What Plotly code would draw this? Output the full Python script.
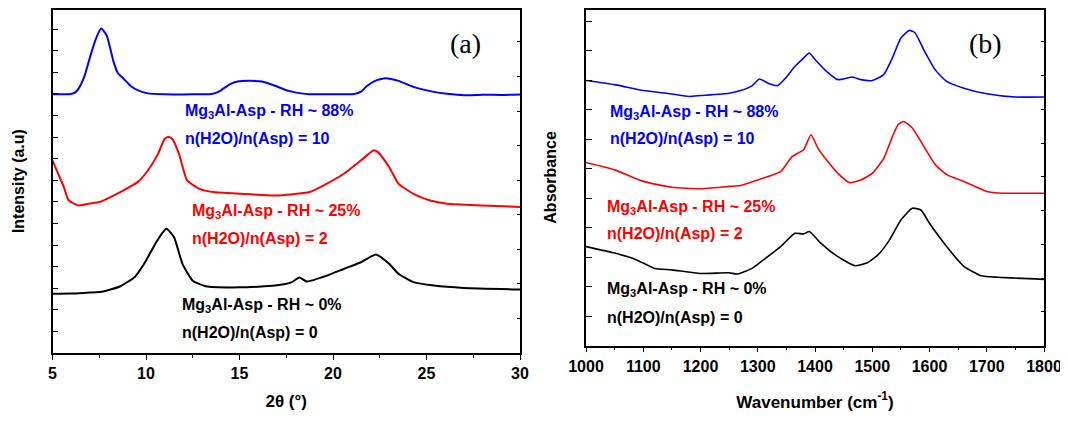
import plotly.graph_objects as go

# ---------- Panel (a): XRD (offset units, 0 = bottom of frame) ----------
xrd_blue_x = [5.0, 5.9, 6.2, 6.4, 6.7, 7.0, 7.3, 7.6, 7.9, 8.26, 8.5, 8.8, 9.2, 9.55, 10.1, 11.0, 12.0, 13.0, 13.5,
              13.9, 14.15, 14.5, 14.9, 15.5, 16.2, 16.9, 17.4, 17.8, 18.3, 18.75, 20.0, 21.15, 21.5, 21.8, 22.25,
              22.8, 23.5, 24.3, 25.4, 26.1, 27.0, 28.0, 29.0, 30.0]
xrd_blue_y = [11.98, 11.98, 12.05, 12.25, 12.8, 13.68, 14.5, 15.02, 14.7, 13.5, 12.95, 12.7, 12.35, 12.17, 12.02,
              11.98, 11.97, 11.98, 11.99, 12.1, 12.25, 12.45, 12.57, 12.6, 12.57, 12.37, 12.2, 12.1, 12.02, 11.98,
              11.98, 11.99, 12.1, 12.35, 12.6, 12.72, 12.6, 12.32, 12.09, 12.0, 11.93, 11.96, 11.95, 11.97]

xrd_red_x = [5.0, 5.3, 5.6, 5.87, 6.4, 7.0, 7.5, 8.1, 8.8, 9.55, 10.1, 10.65, 11.0, 11.2, 11.4, 11.76, 12.2,
             12.86, 13.6, 15.07, 16.9, 18.75, 19.5, 20.6, 21.5, 22.16, 22.4, 23.0, 23.5, 24.3, 25.2, 26.1, 28.0, 30.0]
xrd_red_y = [8.92, 8.3, 7.7, 7.06, 6.83, 6.92, 6.99, 7.22, 7.53, 7.91, 8.45, 9.23, 9.92, 10.0, 9.92, 9.23, 7.99,
             7.6, 7.45, 7.37, 7.29, 7.45, 7.76, 8.31, 8.92, 9.38, 9.3, 8.61, 7.84, 7.37, 7.06, 6.91, 6.83, 6.76]

xrd_black_x = [5.0, 6.0, 7.0, 7.7, 8.6, 9.4, 9.9, 10.5, 10.85, 11.1, 11.5, 11.95, 12.5, 13.2, 15.07, 16.9,
               17.8, 18.2, 18.6, 19.7, 20.6, 21.5, 22.3, 23.0, 23.5, 24.3, 25.4, 27.0, 30.0]
xrd_black_y = [2.74, 2.75, 2.8, 2.85, 3.08, 3.52, 4.13, 5.06, 5.53, 5.75, 5.36, 4.13, 3.35, 3.09, 3.04, 3.12,
               3.28, 3.5, 3.31, 3.59, 3.9, 4.2, 4.56, 4.13, 3.67, 3.28, 3.12, 3.01, 2.94]

# ---------- Panel (b): FTIR ----------
ir_blue_x = [1000, 1050, 1070, 1100, 1150, 1180, 1200, 1250, 1270, 1290, 1303, 1320, 1335, 1350, 1365, 1380,
             1390, 1400, 1420, 1440, 1465, 1480, 1500, 1520, 1535, 1550, 1565, 1575, 1590, 1610, 1630, 1660,
             1700, 1750, 1800]
ir_blue_y = [8.99, 8.85, 8.77, 8.65, 8.53, 8.45, 8.48, 8.56, 8.65, 8.81, 9.04, 8.88, 8.82, 9.1, 9.47, 9.75,
             9.92, 9.7, 9.3, 9.02, 9.11, 9.02, 8.99, 9.19, 9.75, 10.43, 10.69, 10.6, 10.03, 9.35, 8.96, 8.73,
             8.54, 8.43, 8.43]

ir_red_x = [1000, 1050, 1100, 1150, 1200, 1250, 1270, 1300, 1340, 1360, 1380, 1393, 1405, 1420, 1440, 1460,
            1480, 1500, 1520, 1535, 1545, 1555, 1570, 1590, 1610, 1630, 1660, 1700, 1730, 1800]
ir_red_y = [6.21, 5.96, 5.57, 5.37, 5.32, 5.4, 5.43, 5.62, 5.9, 6.41, 6.64, 7.15, 6.7, 6.3, 5.84, 5.53, 5.62,
            5.84, 6.35, 7.08, 7.49, 7.6, 7.38, 6.76, 6.14, 5.8, 5.57, 5.23, 5.17, 5.17]

ir_black_x = [1000, 1050, 1080, 1100, 1120, 1150, 1200, 1250, 1265, 1290, 1310, 1340, 1365, 1380, 1390, 1410,
              1440, 1470, 1490, 1510, 1530, 1550, 1570, 1585, 1600, 1630, 1660, 1690, 1720, 1800]
ir_black_y = [3.36, 3.14, 2.97, 2.8, 2.62, 2.57, 2.45, 2.47, 2.43, 2.62, 2.91, 3.36, 3.81, 3.79, 3.87, 3.48,
              3.02, 2.71, 2.8, 3.08, 3.58, 4.26, 4.66, 4.6, 4.15, 3.36, 2.69, 2.37, 2.32, 2.25]

# ---------- Labels ----------
label_blue = ["<b>Mg<sub>3</sub>Al-Asp - RH ~ 88%</b>", "<b>n(H2O)/n(Asp) = 10</b>"]
label_red = ["<b>Mg<sub>3</sub>Al-Asp - RH ~ 25%</b>", "<b>n(H2O)/n(Asp) = 2</b>"]
label_black = ["<b>Mg<sub>3</sub>Al-Asp - RH ~ 0%</b>", "<b>n(H2O)/n(Asp) = 0</b>"]
label_pos_a = [(11.98, 11.16), (11.98, 9.95), (12.35, 6.53), (12.35, 5.32), (11.82, 2.22), (11.82, 0.93)]
label_pos_b = [(1038, 7.92), (1038, 7.04), (1033, 4.70), (1033, 3.79), (1033, 1.89), (1033, 0.97)]

BLUE, RED, BLACK = "#0000FF", "#FF0000", "#000000"
FONT = "Liberation Sans, Arial, sans-serif"

fig = go.Figure()
for xs, ys, c in [(xrd_blue_x, xrd_blue_y, BLUE), (xrd_red_x, xrd_red_y, RED), (xrd_black_x, xrd_black_y, BLACK)]:
    fig.add_trace(go.Scatter(x=xs, y=ys, mode="lines", line=dict(color=c, width=2, shape="spline", smoothing=0.5),
                             xaxis="x", yaxis="y", showlegend=False, hoverinfo="skip"))
for xs, ys, c in [(ir_blue_x, ir_blue_y, BLUE), (ir_red_x, ir_red_y, RED), (ir_black_x, ir_black_y, BLACK)]:
    fig.add_trace(go.Scatter(x=xs, y=ys, mode="lines", line=dict(color=c, width=1.6, shape="spline", smoothing=0.5),
                             xaxis="x2", yaxis="y2", showlegend=False, hoverinfo="skip"))

# page body has an 8px margin: size the figure and place domains in screen pixels minus that offset
OFF = 8
W, H = 1068 - OFF, 421 - OFF


def dom_x(a, b):
    return [(a - OFF) / W, (b - OFF) / W]


def dom_y(bottom, top):
    return [max(0.0, (H - (bottom - OFF)) / H), min(1.0, (H - (top - OFF)) / H)]


TOP = 9.2
xa_dom = dom_x(52.5, 520)
ya_dom = dom_y(353, TOP)
xb_dom = dom_x(586, 1044)
yb_dom = dom_y(345.7, TOP)
ya_top = (353 - TOP) / 21.6
yb_top = (345.7 - TOP) / 29.5

tickfont = dict(family=FONT, size=16, color="black", weight="bold")
xtitlefont = dict(family=FONT, size=17, color="black", weight="bold")
ytitlefont = dict(family=FONT, size=16, color="black", weight="bold")

common_x = dict(showline=True, linecolor="black", linewidth=1.5, mirror=True, ticks="outside", ticklen=5,
                tickwidth=1.2, tickcolor="black", showgrid=False, zeroline=False, tickfont=tickfont,
                automargin=False)
common_y = dict(showticklabels=False, ticks="inside", ticklen=6, tickwidth=1.2, tickcolor="black",
                showline=True, linecolor="black", linewidth=1.5, mirror=True, showgrid=False, zeroline=False,
                automargin=False)
right_y = dict(side="right", showticklabels=False, ticks="inside", ticklen=3, tickcolor="black",
               showline=False, showgrid=False, zeroline=False, automargin=False)

fig.update_layout(
    width=W, height=H, margin=dict(l=0, r=0, t=0, b=0), plot_bgcolor="white", paper_bgcolor="white",
    xaxis=dict(domain=xa_dom, anchor="y", range=[5, 30], dtick=5, tick0=5,
               minor=dict(dtick=2.5, tick0=5, ticks="outside", ticklen=3, tickcolor="black"),
               title=dict(text="<b>2θ (°)</b>", font=xtitlefont, standoff=14), **common_x),
    yaxis=dict(domain=ya_dom, anchor="x", range=[0, ya_top], dtick=1, tick0=0,
               title=dict(text="<b>Intensity (a.u)</b>", font=ytitlefont, standoff=22), **common_y),
    yaxis3=dict(overlaying="y", anchor="x", range=[0, ya_top], dtick=1.6, tick0=0, **right_y),
    xaxis2=dict(domain=xb_dom, anchor="y2", range=[1000, 1800], dtick=100, tick0=1000,
                minor=dict(dtick=50, tick0=1000, ticks="outside", ticklen=3, tickcolor="black"),
                title=dict(text="<b>Wavenumber (cm<sup>-1</sup>)</b>", font=xtitlefont, standoff=22), **common_x),
    yaxis2=dict(domain=yb_dom, anchor="x2", range=[0, yb_top], dtick=1, tick0=0,
                title=dict(text="<b>Absorbance</b>", font=ytitlefont, standoff=24), **common_y),
    yaxis4=dict(overlaying="y2", anchor="x2", range=[0, yb_top], dtick=1.145, tick0=0, **right_y),
)
# invisible traces to activate the overlay axes carrying the right-side ticks
fig.add_trace(go.Scatter(x=[None], y=[None], xaxis="x", yaxis="y3", showlegend=False))
fig.add_trace(go.Scatter(x=[None], y=[None], xaxis="x2", yaxis="y4", showlegend=False))

# explicit top edge of each frame
for xr, yr in [("x domain", "y domain"), ("x2 domain", "y2 domain")]:
    fig.add_shape(type="line", xref=xr, yref=yr, x0=0, x1=1, y0=1, y1=1,
                  line=dict(color="black", width=1.5), layer="above")

labels = label_blue + label_red + label_black
colors = [BLUE, BLUE, RED, RED, BLACK, BLACK]
for (px, py), t, c in zip(label_pos_a, labels, colors):
    fig.add_annotation(x=px, y=py, xref="x", yref="y", text=t, showarrow=False, xanchor="left", yanchor="middle",
                       font=dict(family=FONT, size=16, color=c))
for (px, py), t, c in zip(label_pos_b, labels, colors):
    fig.add_annotation(x=px, y=py, xref="x2", yref="y2", text=t, showarrow=False, xanchor="left", yanchor="middle",
                       font=dict(family=FONT, size=16, color=c))

fig.add_annotation(x=27.1, y=14.35, xref="x", yref="y", text="(a)", showarrow=False,
                   font=dict(family="Liberation Serif, Times New Roman, serif", size=28, color="black"))
fig.add_annotation(x=1697, y=10.26, xref="x2", yref="y2", text="(b)", showarrow=False,
                   font=dict(family="Liberation Serif, Times New Roman, serif", size=28, color="black"))

fig.write_html("out.html")
